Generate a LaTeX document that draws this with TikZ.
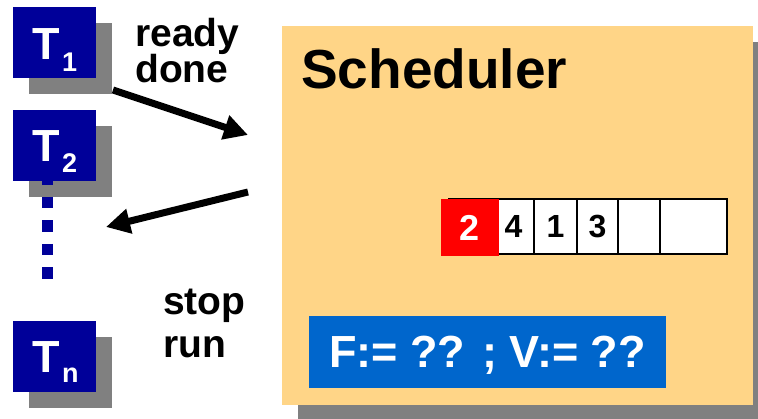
\documentclass[tikz,border=0pt]{standalone}
\usepackage{fontspec}
\setmainfont{Liberation Sans}
\usetikzlibrary{arrows.meta,calc,shadows}
\definecolor{taskblue}{RGB}{0,0,153}
\definecolor{shadegray}{RGB}{128,128,128}
\definecolor{schedorange}{RGB}{255,213,135}
\definecolor{varblue}{RGB}{0,102,204}
\newcommand{\tsize}[1]{\fontsize{#1}{#1}\selectfont}
\newcommand{\tsub}[2]{\hspace{2pt}\raisebox{#1}{\tsize{27}#2}}

\begin{document}
\begin{tikzpicture}[x=1pt,y=1pt,every node/.style={inner sep=0pt},
      >={Triangle[length=24pt,width=24pt]},
      shade/.style={drop shadow={shadow xshift=16pt,shadow yshift=-16pt,
          fill=shadegray,opacity=1}},
      task/.style={shade,fill=taskblue,minimum width=83pt,minimum height=71pt},
      tlabel/.style={anchor=base west,text=white,font=\bfseries\tsize{45}},
      word/.style={anchor=base west,font=\bfseries\tsize{39}},
      cell/.style={draw,line width=1.4pt,fill=white,minimum height=55pt,
          font=\bfseries\tsize{32}},
      flow/.style={->,line width=7pt}]
  \clip(0,0)rectangle(758,419);
  \useasboundingbox(0,0)rectangle(758,419);
  % tasks on the left
  \node[task](T1)at(54.5,376.5){};
  \node[task](T2)at(54.5,273.5){};
  \node[task](Tn)at(54.5,62.5){};
  \node[tlabel](T1l)at($(T1.center)+(-22,-17.5)$){T\tsub{-12pt}{1}};
  \node[tlabel](T2l)at($(T2.center)+(-22,-16.5)$){T\tsub{-11pt}{2}};
  \node[tlabel](Tnl)at($(Tn.center)+(-22,-16.5)$){T\tsub{-10pt}{n}};
  \draw[taskblue,line width=11pt,dash pattern=on 11.5pt off 12pt]
    (47.5,245.5)--(47.5,139);
  % scheduler box
  \node[shade,fill=schedorange,minimum width=471pt,minimum height=379pt]
    (sched)at(517.5,203.5){};
  \node[anchor=base west,font=\bfseries\tsize{55}](title)at(301,330){Scheduler};
  % ready queue
  \foreach \a/\b/\t [count=\i] in {449/493/,493/534/4,534/577/1,577/618/3,
      618/660/,660/727/}
    \node[cell,minimum width=\b-\a](q\i)at({(\a+\b)/2},192.5){\t};
  \node[fill=red,text=white,minimum width=58pt,minimum height=57pt,
      font=\bfseries\tsize{36}](head)at(470,191.5){2};
  % variables
  \node[fill=varblue,text=white,text depth=0pt,minimum width=357pt,
      minimum height=72pt,font=\bfseries\tsize{45}](vars)at(487.5,67)
    {F:= ?? ; V:= ??};
  % messages
  \node[word](ready)at(135,372){ready};
  \node[word](done)at(135,336){done};
  \node[word](stop)at(163,104){stop};
  \node[word](run)at(163,61){run};
  \coordinate(up1)at(113,329);
  \coordinate(up2)at(248,284);
  \coordinate(down1)at(248,227);
  \coordinate(down2)at(106,192);
  \draw[flow](up1)--(up2);
  \draw[flow](down1)--(down2);
\end{tikzpicture}
\end{document}
